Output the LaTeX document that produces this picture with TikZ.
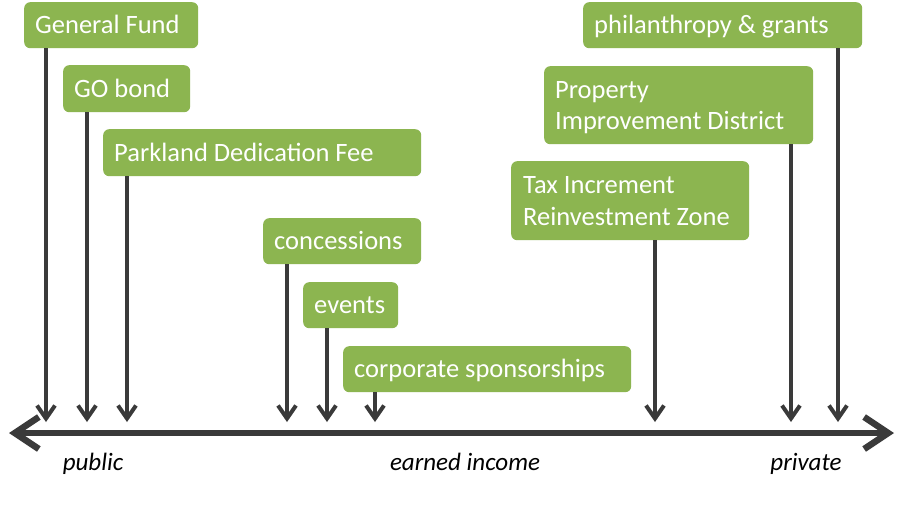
\documentclass[tikz,border=0pt]{standalone}
\usepackage{fontspec}
\setmainfont{Carlito}
\usetikzlibrary{arrows.meta}
\definecolor{boxgreen}{RGB}{140,181,80}
\definecolor{arrgray}{RGB}{58,58,58}
\begin{document}
\begin{tikzpicture}[x=1pt,y=-1pt,
  fbox/.style={draw=none,fill=boxgreen,rounded corners=6pt,anchor=north west,inner sep=0pt},
  ftext/.style={anchor=base west,inner sep=0pt,text=white,font=\fontsize{26.5}{31.5}\selectfont,align=left},
  varrow/.style={draw=arrgray,line width=4pt,-{Straight Barb[length=13pt,width=18pt]}},
  axisline/.style={draw=arrgray,line width=6.5pt,{Straight Barb[length=24pt,width=32pt]}-{Straight Barb[length=24pt,width=32pt]}},
  axlabel/.style={anchor=base,inner sep=0pt,font=\fontsize{25}{30}\selectfont\itshape}]
\useasboundingbox[fill=white] (0,0) rectangle (900,507);
% boxes
\node[fbox,minimum width=174pt,minimum height=46pt] (gf) at (24,2) {};
\node[fbox,minimum width=127pt,minimum height=47pt] (go) at (63,65) {};
\node[fbox,minimum width=318pt,minimum height=47pt] (pdf) at (103,129) {};
\node[fbox,minimum width=158pt,minimum height=46pt] (con) at (263,218) {};
\node[fbox,minimum width=95pt,minimum height=46pt] (ev) at (303,282) {};
\node[fbox,minimum width=288pt,minimum height=46pt] (cs) at (343,346) {};
\node[fbox,minimum width=238pt,minimum height=79pt] (tirz) at (511,161) {};
\node[fbox,minimum width=269pt,minimum height=78pt] (pid) at (544,66) {};
\node[fbox,minimum width=279pt,minimum height=46pt] (ph) at (583,2) {};
% texts
\node[ftext] (tgf) at (35,33.5) {General Fund};
\node[ftext] (tgo) at (74,97) {GO bond};
\node[ftext] (tpdf) at (114,161) {Parkland Dedication Fee};
\node[ftext] (tcon) at (274,249.5) {concessions};
\node[ftext] (tev) at (314,313.5) {events};
\node[ftext] (tcs) at (354,377.5) {corporate sponsorships};
\node[ftext] (ttirz) at (523,225) {Tax Increment\\Reinvestment Zone};
\node[ftext] (tpid) at (555,129.5) {Property\\Improvement District};
\node[ftext] (tph) at (594,33.5) {philanthropy \& grants};
% axis
\coordinate (axl) at (9,433);
\coordinate (axr) at (894,433);
\draw[axisline] (axl) -- (axr);
% arrow targets
\coordinate (a1) at (46,422);
\coordinate (a2) at (87,422);
\coordinate (a3) at (127,422);
\coordinate (a4) at (287,422);
\coordinate (a5) at (327,422);
\coordinate (a6) at (375,422);
\coordinate (a7) at (655,422);
\coordinate (a8) at (791,422);
\coordinate (a9) at (838,422);
\draw[varrow] (gf.south -| a1) -- (a1);
\draw[varrow] (go.south -| a2) -- (a2);
\draw[varrow] (pdf.south -| a3) -- (a3);
\draw[varrow] (con.south -| a4) -- (a4);
\draw[varrow] (ev.south -| a5) -- (a5);
\draw[varrow] (cs.south -| a6) -- (a6);
\draw[varrow] (tirz.south -| a7) -- (a7);
\draw[varrow] (pid.south -| a8) -- (a8);
\draw[varrow] (ph.south -| a9) -- (a9);
% labels
\node[axlabel] (lpub) at (93,470) {public};
\node[axlabel] (lear) at (465,470) {earned income};
\node[axlabel] (lpri) at (806,470) {private};
\end{tikzpicture}
\end{document}
